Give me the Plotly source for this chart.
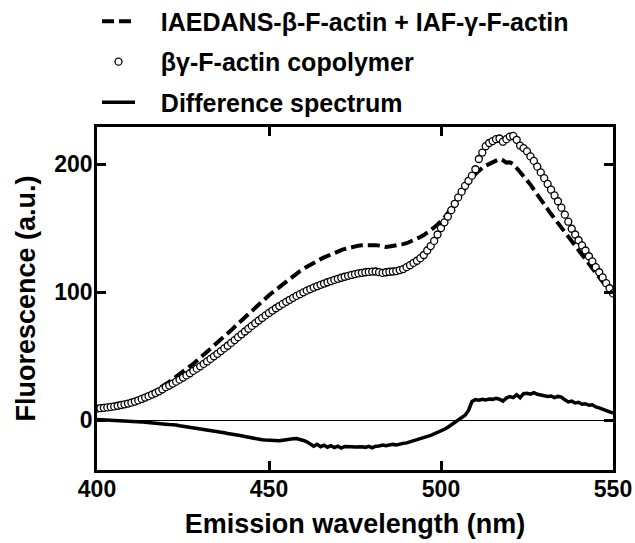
import plotly.graph_objects as go

# emission wavelength axis (nm), 1 nm steps
wavelength = list(range(400, 551))

# IAEDANS-beta-F-actin + IAF-gamma-F-actin (sum of single-label spectra)
sum_spectrum = [
    9.0, 9.3, 9.7, 10.1, 10.6, 11.1, 11.7, 12.3, 13.0, 13.7,
    14.5, 15.4, 16.4, 17.5, 18.7, 20.0, 21.4, 22.9, 24.5, 26.2,
    28.0, 29.9, 31.9, 33.8, 35.7, 37.7, 39.7, 41.8, 44.0, 46.3,
    48.6, 50.9, 53.1, 55.4, 57.7, 60.0, 62.4, 64.9, 67.5, 70.1,
    72.8, 75.3, 78.0, 80.7, 83.3, 85.8, 88.2, 90.6, 93.0, 95.3,
    97.5, 99.7, 101.9, 104.1, 106.3, 108.4, 110.5, 112.5, 114.5, 116.4,
    118.2, 119.9, 121.5, 123.0, 124.4, 125.8, 127.1, 128.4, 129.6, 130.7,
    131.8, 132.8, 133.7, 134.5, 135.2, 135.8, 136.3, 136.6, 136.8, 136.9,
    136.9, 136.7, 136.3, 135.5, 135.3, 135.7, 136.0, 136.4, 136.9, 137.5,
    138.2, 139.2, 140.3, 141.6, 143.0, 144.6, 146.4, 148.4, 150.5, 152.8,
    155.2, 158.2, 161.8, 165.8, 170.0, 174.3, 178.4, 182.4, 186.0, 189.3,
    192.2, 194.8, 197.0, 198.8, 200.3, 201.6, 202.8, 204.0, 203.0, 201.2,
    201.5, 200.0, 197.0, 194.0, 191.0, 187.5, 184.0, 180.0, 176.0, 172.0,
    168.0, 164.5, 161.0, 157.5, 154.0, 150.5, 146.5, 143.0, 139.0, 135.5,
    132.0, 128.5, 125.0, 121.5, 118.0, 114.5, 111.0, 107.5, 104.0, 100.5,
    97.5,
]

# beta/gamma-F-actin copolymer
copolymer = [
    9.0, 9.3, 9.6, 9.9, 10.3, 10.7, 11.2, 11.8, 12.3, 12.9,
    13.6, 14.5, 15.4, 16.5, 17.6, 18.7, 19.9, 21.1, 22.5, 24.0,
    25.7, 27.0, 28.5, 30.0, 31.6, 33.2, 34.9, 36.6, 38.4, 40.2,
    42.0, 43.9, 45.8, 47.8, 49.8, 51.8, 53.9, 56.0, 58.1, 60.3,
    62.5, 64.8, 67.0, 69.2, 71.4, 73.6, 75.7, 77.8, 79.8, 81.8,
    83.7, 85.6, 87.4, 89.1, 90.8, 92.4, 94.0, 95.5, 97.0, 98.4,
    99.8, 101.1, 102.3, 103.5, 104.6, 105.7, 106.7, 107.7, 108.6, 109.5,
    110.4, 111.2, 112.0, 112.7, 113.4, 114.0, 114.6, 115.1, 115.5, 115.8,
    116.0, 116.1, 115.6, 115.0, 115.5, 115.9, 116.1, 116.4, 117.2, 118.0,
    119.5, 121.0, 122.8, 124.5, 126.5, 129.0, 132.5, 136.0, 140.0, 145.0,
    150.0, 154.5, 159.0, 164.0, 169.0, 174.0, 178.5, 183.0, 187.0, 191.0,
    196.0, 204.0, 209.0, 214.0, 216.5, 218.0, 219.5, 220.0, 217.5, 219.5,
    221.5, 222.0, 219.0, 214.5, 212.5, 210.0, 206.0, 202.5, 198.0, 193.5,
    189.0, 184.5, 180.0, 175.5, 171.0, 166.0, 160.5, 155.0, 149.5, 145.0,
    140.5, 136.5, 132.5, 128.0, 124.0, 119.5, 115.5, 111.5, 107.0, 103.0,
    99.0,
]

# difference spectrum
difference = [
    0.5, 0.4, 0.2, 0.1, 0.0, -0.2, -0.4, -0.3, -0.6, -0.8,
    -1.0, -1.2, -1.1, -1.4, -1.7, -1.9, -2.1, -2.0, -2.4, -2.8,
    -3.2, -3.5, -3.4, -3.9, -4.4, -4.8, -5.0, -5.6, -6.0, -6.2,
    -6.7, -7.2, -7.3, -7.9, -8.6, -9.0, -9.3, -9.9, -10.5, -10.8,
    -11.3, -11.9, -12.2, -12.8, -13.4, -13.7, -14.3, -14.9, -15.4, -15.6,
    -15.8, -15.5, -15.9, -16.1, -15.7, -15.2, -15.0, -14.6, -14.4, -15.0,
    -15.9, -17.0, -18.6, -20.5, -19.0, -20.8, -19.6, -21.2, -20.0, -21.5,
    -20.4, -21.8, -20.6, -21.0, -20.8, -21.0, -20.7, -20.9, -21.3, -20.5,
    -21.6, -20.4, -20.2, -19.5, -20.1, -19.3, -19.0, -19.4, -18.6, -18.2,
    -17.8, -17.0, -16.6, -15.7, -14.9, -14.0, -12.9, -11.9, -10.8, -9.8,
    -8.6, -7.2, -5.6, -3.7, -1.8, 0.2, 2.0, 3.8, 7.5, 14.5,
    16.0, 15.5, 16.3, 15.8, 16.5, 16.2, 17.0, 16.3, 14.8, 17.2,
    18.4, 17.6, 19.8, 17.5, 20.6, 21.0, 20.3, 21.5, 20.2, 19.6,
    19.2, 18.4, 18.8, 17.6, 18.5, 18.0, 15.8, 14.2, 14.8, 13.4,
    13.9, 12.4, 12.8, 11.6, 12.0, 10.3, 9.6, 8.4, 7.8, 6.5,
    5.5,
]

x_ticks = [400, 450, 500, 550]
y_ticks = [0, 100, 200]

FONT = "Liberation Sans, Arial, sans-serif"
PAD = "\u00a0" * 3

fig = go.Figure()
fig.add_trace(go.Scatter(
    x=wavelength, y=sum_spectrum, mode="lines", legendgroup="a",
    name=PAD + "IAEDANS-\u03b2-F-actin + IAF-\u03b3-F-actin",
    line=dict(color="black", width=4, dash="12px,5px"),
))
fig.add_trace(go.Scatter(
    x=wavelength, y=copolymer, mode="markers", legendgroup="b",
    name=PAD + "\u03b2\u03b3-F-actin copolymer",
    marker=dict(symbol="circle", size=7, color="white", line=dict(color="black", width=1.3)),
))
fig.add_trace(go.Scatter(
    x=wavelength, y=difference, mode="lines", legendgroup="c",
    name=PAD + "Difference spectrum",
    line=dict(color="black", width=3.5),
))

axis_common = dict(
    showline=True, linecolor="black", linewidth=2.5, mirror="ticks",
    ticks="inside", ticklen=9, tickwidth=2.5, tickcolor="black",
    showgrid=False, tickfont=dict(family=FONT, size=23, color="black", weight="bold"),
)
fig.update_xaxes(
    range=[400, 550], tickvals=x_ticks, zeroline=False, ticklabelstandoff=-3,
    title=dict(text="Emission wavelength (nm)", standoff=13,
               font=dict(family=FONT, size=27, color="black", weight="bold")),
    **axis_common,
)
fig.update_yaxes(
    range=[-39, 229], tickvals=y_ticks, zeroline=True, zerolinecolor="black", zerolinewidth=1.3,
    ticklabelstandoff=-3,
    title=dict(text="Fluorescence (a.u.)", standoff=11,
               font=dict(family=FONT, size=27, color="black", weight="bold")),
    **axis_common,
)
fig.update_layout(
    width=635, height=543,
    margin=dict(l=97, r=22, t=127, b=73, autoexpand=False),
    plot_bgcolor="white", paper_bgcolor="white",
    showlegend=True,
    legend=dict(
        x=0.0, y=1.375, xanchor="left", yanchor="top",
        font=dict(family=FONT, size=25, color="black", weight="bold"),
        tracegroupgap=5, bgcolor="rgba(0,0,0,0)", itemwidth=33,
    ),
)
fig.write_html("out.html", config={"displayModeBar": False},
               post_script="document.body.style.margin='0';")
